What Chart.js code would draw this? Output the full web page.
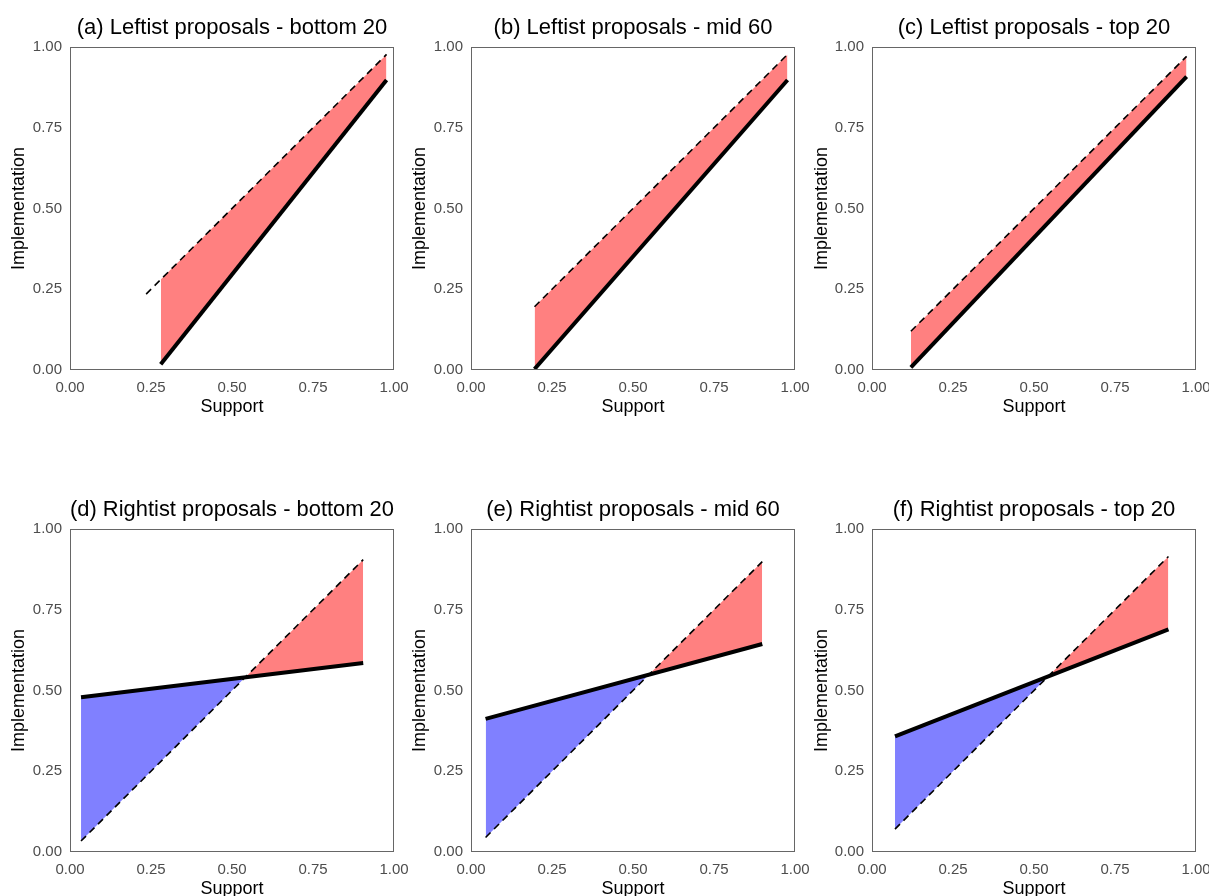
<!DOCTYPE html>
<html>
<head>
<meta charset="utf-8">
<script src="https://cdn.jsdelivr.net/npm/chart.js@4.4.1/dist/chart.umd.min.js"></script>
<style>
  html, body { margin: 0; padding: 0; background: #fff; overflow: hidden; }
  body { width: 1209px; height: 896px; position: relative; }
  canvas { position: absolute; }
</style>
</head>
<body>
<script>
// Panel titles
const titles = [
    '(a) Leftist proposals - bottom 20',
    '(b) Leftist proposals - mid 60',
    '(c) Leftist proposals - top 20',
    '(d) Rightist proposals - bottom 20',
    '(e) Rightist proposals - mid 60',
    '(f) Rightist proposals - top 20'
];

// Fitted line: support range (start, end) and implementation at those ends
const fitSupport = [[0.280, 0.977], [0.196, 0.977], [0.120, 0.971], [0.034, 0.905], [0.045, 0.899], [0.071, 0.915]];
const fitImplementation = [[0.018, 0.898], [0.003, 0.898], [0.008, 0.908], [0.479, 0.585], [0.412, 0.644], [0.358, 0.689]];

// 45-degree reference line starts here (ends with the fitted line)
const diagonalStart = [0.235, 0.196, 0.120, 0.034, 0.045, 0.071];

// Axis ticks
const tickValues = [0, 0.25, 0.5, 0.75, 1];

const RED = '#FF8080';
const BLUE = '#8080FF';
const FONT = "'Liberation Sans', Arial, Helvetica, sans-serif";

// Layout of the 2x3 grid
const colLeft = [8, 409, 811];
const yAxisWidth = [62, 62, 61];
const rowTop = [0, 482];
const PLOT_W = 324, PLOT_H = 323, TOP_H = 47, BOTTOM_H = 48, RIGHT_PAD = 16;

// Draws the full box around the plot area
const framePlugin = {
    id: 'frame',
    afterDraw(chart) {
        const { ctx, chartArea: a } = chart;
        ctx.save();
        ctx.strokeStyle = '#666666';
        ctx.lineWidth = 1;
        ctx.strokeRect(Math.round(a.left) + 0.5, Math.round(a.top) + 0.5,
            Math.round(a.right - a.left) - 1, Math.round(a.bottom - a.top) - 1);
        ctx.restore();
    }
};

function axisOptions(title, isX, width) {
    return {
        type: 'linear',
        min: 0,
        max: 1,
        grid: { display: false, drawTicks: false },
        border: { display: false },
        afterBuildTicks: s => { s.ticks = tickValues.map(v => ({ value: v })); },
        ticks: {
            color: '#4D4D4D',
            font: { family: FONT, size: 15 },
            padding: isX ? 9 : 8,
            maxRotation: 0,
            autoSkip: false,
            callback: v => Number(v).toFixed(2)
        },
        title: {
            display: true,
            text: title,
            color: '#000',
            font: { family: FONT, size: 18, lineHeight: 1.2 },
            padding: 0
        },
        afterFit: s => {
            if (isX) {
                s.height = BOTTOM_H;
                s.paddingLeft = 0;
                s.paddingRight = 0;
            } else {
                s.width = width;
                s.paddingTop = 0;
                s.paddingBottom = 0;
            }
        }
    };
}

function makePanel(i) {
    const row = Math.floor(i / 3), col = i % 3;
    const canvas = document.createElement('canvas');
    const w = yAxisWidth[col] + PLOT_W + RIGHT_PAD;
    const h = TOP_H + PLOT_H + BOTTOM_H;
    canvas.width = w;
    canvas.height = h;
    canvas.style.left = colLeft[col] + 'px';
    canvas.style.top = rowTop[row] + 'px';
    canvas.style.width = w + 'px';
    canvas.style.height = h + 'px';
    document.body.appendChild(canvas);

    const [x0, x1] = fitSupport[i];
    const [y0, y1] = fitImplementation[i];

    new Chart(canvas.getContext('2d'), {
        type: 'line',
        data: {
            datasets: [
                {
                    // 45-degree boundary over the fitted range, used for the fill
                    data: [{ x: x0, y: x0 }, { x: x1, y: x1 }],
                    borderWidth: 0,
                    pointRadius: 0,
                    fill: { target: 1, above: RED, below: BLUE }
                },
                {
                    // fitted line
                    data: [{ x: x0, y: y0 }, { x: x1, y: y1 }],
                    borderColor: '#000',
                    borderWidth: 4,
                    borderCapStyle: 'butt',
                    pointRadius: 0,
                    fill: false
                },
                {
                    // dashed 45-degree line
                    data: [{ x: diagonalStart[i], y: diagonalStart[i] }, { x: x1, y: x1 }],
                    borderColor: '#000',
                    borderWidth: 1.6,
                    borderDash: [7, 5],
                    pointRadius: 0,
                    fill: false
                }
            ]
        },
        options: {
            responsive: false,
            animation: false,
            devicePixelRatio: 1,
            layout: { padding: { left: 0, right: RIGHT_PAD, top: 0, bottom: 0 } },
            scales: {
                x: axisOptions('Support', true),
                y: axisOptions('Implementation', false, yAxisWidth[col])
            },
            plugins: {
                legend: { display: false },
                tooltip: { enabled: false },
                filler: { drawTime: 'beforeDatasetsDraw' },
                title: {
                    display: true,
                    text: titles[i],
                    fullSize: false,
                    color: '#000',
                    font: { family: FONT, size: 22, weight: 'normal', lineHeight: 1 },
                    padding: { top: 17, bottom: 8 }
                }
            }
        },
        plugins: [framePlugin]
    });
}

for (let i = 0; i < titles.length; i++) makePanel(i);
</script>
</body>
</html>
